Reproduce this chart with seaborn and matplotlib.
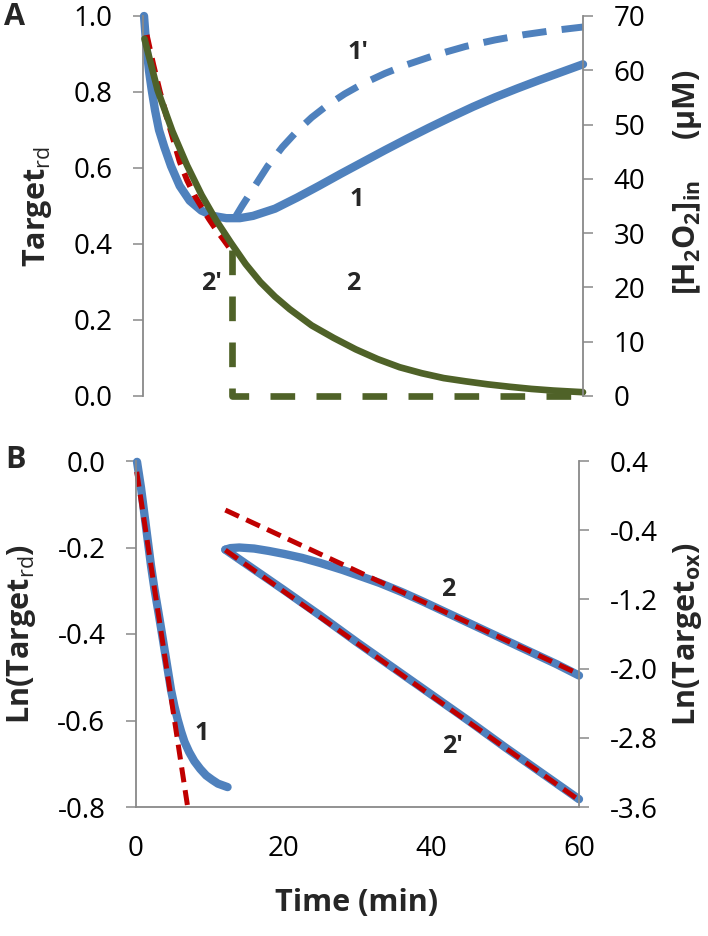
import matplotlib
matplotlib.use('Agg')
import matplotlib.pyplot as plt
import seaborn as sns

BLUE = '#4F81BD'
GREEN = '#4F6228'
RED = '#C00000'
GREY = '#898989'

# panel A, left axis: Target_rd
a_time_1 = [0.14, 0.32, 0.55, 0.82, 1.18, 1.64, 2.18, 2.91, 3.82, 5.0, 6.36, 7.95, 9.55,
            11.36, 13.2, 15.0, 18.0, 21.0, 24.0, 27.0, 30.0, 33.0, 36.0, 39.0, 42.0,
            45.0, 48.0, 51.0, 54.0, 57.0, 60.0]
a_target_1 = [1.0, 0.954, 0.905, 0.855, 0.806, 0.752, 0.700, 0.655, 0.605, 0.553, 0.514,
              0.488, 0.474, 0.468, 0.468, 0.474, 0.493, 0.522, 0.553, 0.585, 0.616,
              0.647, 0.677, 0.706, 0.734, 0.761, 0.786, 0.809, 0.831, 0.852, 0.873]
a_time_1p = [12.5, 13.5, 15.0, 17.0, 19.0, 21.0, 23.0, 25.0, 27.5, 30.0, 33.0, 36.0,
             40.0, 44.0, 48.0, 52.0, 56.0, 60.0]
a_target_1p = [0.468, 0.50, 0.545, 0.605, 0.655, 0.697, 0.733, 0.763, 0.795, 0.822,
               0.849, 0.872, 0.898, 0.92, 0.937, 0.951, 0.962, 0.971]

# panel A, right axis: [H2O2]in (uM)
a_time_2 = [0.2, 2.0, 4.0, 6.0, 8.0, 10.0, 12.0, 14.0, 16.0, 18.0, 20.0, 23.0, 26.0,
            29.0, 32.0, 35.0, 38.0, 41.0, 44.0, 47.0, 50.0, 53.0, 56.0, 60.0]
a_h2o2_2 = [65.8, 56.3, 48.8, 42.5, 37.0, 32.3, 28.2, 24.3, 21.0, 18.3, 16.0, 13.0, 10.7,
            8.6, 6.8, 5.3, 4.2, 3.3, 2.7, 2.15, 1.7, 1.3, 1.0, 0.7]
a_time_2p = [12.1, 12.1, 60.0]
a_h2o2_2p = [26.9, 0.0, 0.0]
a_time_fit = [0.5, 1.4, 2.3, 3.2, 4.0, 5.0, 6.0, 7.0, 8.0, 9.0, 10.0, 11.0, 11.8]
a_h2o2_fit = [66.5, 61.0, 56.0, 51.6, 47.9, 43.2, 39.8, 37.0, 34.8, 32.6, 30.6, 28.8, 27.3]

# panel B, left axis: Ln(Target_rd)
b_time_1 = [0.14, 0.68, 1.13, 1.58, 2.04, 2.49, 2.94, 3.4, 4.1, 4.75, 5.2, 5.65, 6.1,
            6.56, 7.2, 7.9, 8.7, 9.5, 10.3, 11.1, 12.4]
b_ln_1 = [-0.002, -0.062, -0.122, -0.182, -0.243, -0.295, -0.340, -0.387, -0.461, -0.530,
          -0.567, -0.598, -0.625, -0.649, -0.673, -0.694, -0.712, -0.727, -0.737, -0.746,
          -0.754]
b_time_fit1 = [0.1, 7.0]
b_ln_fit1 = [-0.025, -0.80]

# panel B, right axis: Ln(Target_ox)
b_time_2 = [12.1, 12.8, 14.0, 16.0, 18.0, 20.0, 22.5, 25.0, 28.0, 30.5, 33.0, 36.0, 39.0,
            42.0, 45.0, 48.0, 51.0, 54.0, 57.0, 60.0]
b_lnox_2 = [-0.625, -0.607, -0.600, -0.612, -0.640, -0.673, -0.72, -0.78, -0.86, -0.935,
            -1.01, -1.115, -1.23, -1.35, -1.47, -1.59, -1.71, -1.83, -1.95, -2.08]
b_time_fit2 = [12.1, 60.0]
b_lnox_fit2 = [-0.167, -2.064]
b_time_2p = [12.1, 20.0, 25.0, 30.0, 35.0, 40.0, 45.0, 50.0, 55.0, 60.0]
b_lnox_2p = [-0.625, -1.09, -1.39, -1.70, -2.00, -2.30, -2.60, -2.91, -3.21, -3.51]
b_time_fit2p = [12.1, 60.0]
b_lnox_fit2p = [-0.63, -3.52]

a_left_ticks = [0.0, 0.2, 0.4, 0.6, 0.8, 1.0]
a_right_ticks = [0, 10, 20, 30, 40, 50, 60, 70]
b_left_ticks = [0.0, -0.2, -0.4, -0.6, -0.8]
b_right_ticks = [0.4, -0.4, -1.2, -2.0, -2.8, -3.6]
time_ticks = [0, 20, 40, 60]

sns.set_theme(style='white')
plt.rcParams['font.family'] = ['Open Sans', 'DejaVu Sans']
plt.rcParams['mathtext.fontset'] = 'custom'
plt.rcParams['mathtext.rm'] = 'Open Sans'
plt.rcParams['mathtext.bf'] = 'Open Sans:bold'
plt.rcParams['mathtext.it'] = 'Open Sans:italic'

W, H = 708, 936
fig = plt.figure(figsize=(W / 100, H / 100), dpi=100)
fig.patch.set_facecolor('white')


def px_axes(left, top, right, bottom):
    return fig.add_axes([left / W, 1 - bottom / H, (right - left) / W, (bottom - top) / H])


def style_axis(ax, side):
    for s in ax.spines.values():
        s.set_visible(False)
    for s in side:
        ax.spines[s].set_visible(True)
        ax.spines[s].set_color(GREY)
        ax.spines[s].set_linewidth(1.3)
    ax.set_facecolor('none')
    ax.tick_params(direction='out', length=7, width=1.1, color=GREY, labelsize=20,
                   pad=15, labelcolor='black')


def draw(ax, x, y, color, lw, dash=None):
    kw = dict(x=x, y=y, ax=ax, color=color, linewidth=lw, estimator=None, sort=False,
              clip_on=False, solid_joinstyle='round', solid_capstyle='round')
    if dash is not None:
        kw['linestyle'] = (0, dash)
    sns.lineplot(**kw)


# ---- panel A ----
axA = px_axes(143, 16, 583, 396)
axA2 = axA.twinx()
style_axis(axA, ['left'])
style_axis(axA2, ['right'])

draw(axA, a_time_1, a_target_1, BLUE, 6)
draw(axA, a_time_1p, a_target_1p, BLUE, 5, (3.5, 2.2))
draw(axA2, a_time_fit, a_h2o2_fit, RED, 4.2, (2.5, 1.6))
draw(axA2, a_time_2, a_h2o2_2, GREEN, 4.8)
draw(axA2, a_time_2p, a_h2o2_2p, GREEN, 4.8, (3.7, 3.2))

axA.set_xlim(0, 60)
axA.set_ylim(0, 1.0)
axA2.set_ylim(0, 70)
axA.set_xticks([])
axA.set_yticks(a_left_ticks)
axA.set_yticklabels([f'{v:.1f}' for v in a_left_ticks])
axA2.set_yticks(a_right_ticks)
axA2.set_yticklabels([str(v) for v in a_right_ticks])

axA.set_ylabel(r'Target$_{\mathrm{rd}}$', fontsize=22, fontweight='bold',
               ha='center', va='center')
axA.yaxis.set_label_coords(38 / W, 1 - 207 / H, transform=fig.transFigure)
axA2.set_ylabel(r'[H$_{\mathbf{2}}$O$_{\mathbf{2}}$]$_{\mathbf{in}}$     (µM)',
                fontsize=22, fontweight='bold', ha='center', va='center')
axA2.yaxis.set_label_coords(688 / W, 1 - 182 / H, transform=fig.transFigure)

for txt, t, v in [("1'", 29.3, 0.903), ("1", 29.2, 0.516), ("2", 28.7, 0.297),
                  ("2'", 9.4, 0.297)]:
    axA.text(t, v, txt, fontsize=18, fontweight='bold', ha='center', va='center')

# ---- panel B ----
axB = px_axes(136, 461, 579, 807)
axB2 = axB.twinx()
style_axis(axB, ['left', 'bottom'])
style_axis(axB2, ['right'])

draw(axB, b_time_1, b_ln_1, BLUE, 6)
draw(axB, b_time_fit1, b_ln_fit1, RED, 3.6, (3.0, 1.6))
draw(axB2, b_time_2, b_lnox_2, BLUE, 6)
draw(axB2, b_time_2p, b_lnox_2p, BLUE, 6)
draw(axB2, b_time_fit2, b_lnox_fit2, RED, 3.6, (3.0, 1.6))
draw(axB2, b_time_fit2p, b_lnox_fit2p, RED, 3.6, (3.0, 1.6))

axB.set_xlim(0, 60)
axB.set_ylim(-0.8, 0.0)
axB2.set_ylim(-3.6, 0.4)
axB.set_xticks(time_ticks)
axB.set_xticklabels([str(v) for v in time_ticks])
axB.tick_params(axis='x', pad=13)
axB.set_yticks(b_left_ticks)
axB.set_yticklabels([f'{v:.1f}' for v in b_left_ticks])
axB2.set_yticks(b_right_ticks)
axB2.set_yticklabels([f'{v:.1f}' for v in b_right_ticks])

axB.set_ylabel(r'Ln(Target$_{\mathrm{rd}}$)', fontsize=22, fontweight='bold',
               ha='center', va='center')
axB.yaxis.set_label_coords(22 / W, 1 - 634 / H, transform=fig.transFigure)
axB2.set_ylabel(r'Ln(Target$_{\mathbf{ox}}$)', fontsize=22, fontweight='bold',
                ha='center', va='center')
axB2.yaxis.set_label_coords(688 / W, 1 - 634 / H, transform=fig.transFigure)
axB.set_xlabel('Time (min)', fontsize=22, fontweight='bold', ha='center', va='center')
axB.xaxis.set_label_coords(357 / W, 1 - 903 / H, transform=fig.transFigure)

for txt, t, v in [("1", 8.9, -0.631), ("2", 42.3, -0.298), ("2'", 42.8, -0.659)]:
    axB.text(t, v, txt, fontsize=18, fontweight='bold', ha='center', va='center')

fig.text(15 / W, 1 - 17 / H, 'A', fontsize=22, fontweight='bold', ha='center', va='center')
fig.text(16 / W, 1 - 460 / H, 'B', fontsize=22, fontweight='bold', ha='center', va='center')

fig.savefig('out.png', dpi=100, facecolor='white')
